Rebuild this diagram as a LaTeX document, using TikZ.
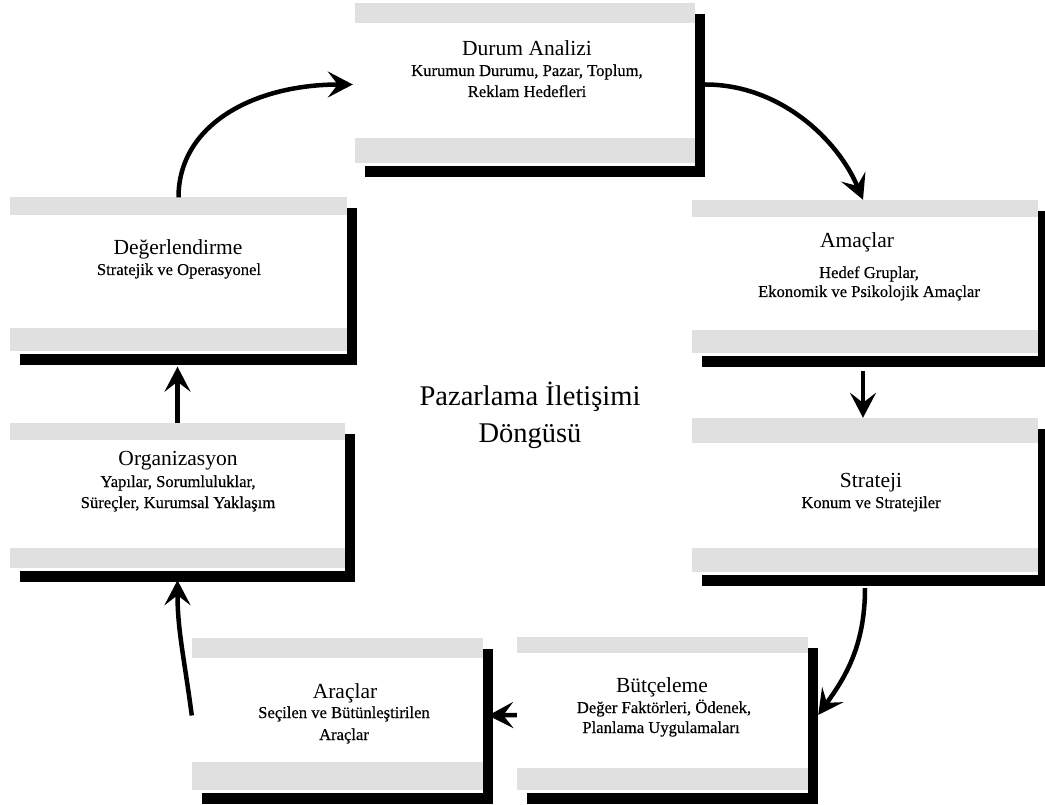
\documentclass[tikz,border=0pt]{standalone}
\usepackage{fontspec}
\setmainfont{Liberation Serif}
\newfontfamily\subserif[FakeBold=0.4]{Liberation Serif}
\usetikzlibrary{arrows.meta,shadows}
\definecolor{barfill}{gray}{0.88}

\begin{document}
\begin{tikzpicture}[x=1pt,y=1pt,
  % white card with grey bands at top and bottom and a solid black drop shadow
  panel/.style 2 args={rectangle, inner sep=0pt, fill=white,
    general shadow={fill=black, shadow xshift=10pt, shadow yshift=-11pt},
    path picture={
      \fill[barfill] (path picture bounding box.north west)
        rectangle ([yshift={-#1}]path picture bounding box.north east);
      \fill[barfill] ([yshift=3]path picture bounding box.south west)
        rectangle ([yshift={#2+3}]path picture bounding box.south east);}},
  ttl/.style={font=\fontsize{21.5}{24}\selectfont, inner sep=0pt, anchor=base},
  sub/.style={font=\subserif\fontsize{16.6}{19}\selectfont, inner sep=0pt, anchor=base},
  ctr/.style={font=\fontsize{28.5}{32}\selectfont, inner sep=0pt, anchor=base},
  arr/.style={line width=4.5pt, -{Stealth[length=25pt, width=26pt, inset=10pt]}}
]
\useasboundingbox (0,0) rectangle (1045,-805);
\fill[white] (0,0) rectangle (1045,-805);

% stages of the cycle
\node[panel={20}{25}, minimum width=340, minimum height=163] (dur)  at (525,-84.5) {};
\node[panel={17}{23}, minimum width=346, minimum height=156] (amac) at (865,-278) {};
\node[panel={25}{24}, minimum width=346, minimum height=157] (str)  at (865,-496.5) {};
\node[panel={16}{22}, minimum width=291, minimum height=156] (but)  at (662.5,-715) {};
\node[panel={20}{28}, minimum width=291, minimum height=155] (ara)  at (337.5,-715.5) {};
\node[panel={17}{20}, minimum width=335, minimum height=148] (org)  at (177.5,-497) {};
\node[panel={18}{22}, minimum width=337, minimum height=156] (deg)  at (178.5,-275.5) {};

% labels
\node[ttl] (dur-t)  at (527,-56) {Durum Analizi};
\node[sub] (dur-s1) at (527,-76) {Kurumun Durumu, Pazar, Toplum,};
\node[sub] (dur-s2) at (527,-97) {Reklam Hedefleri};

\node[ttl] (amac-t)  at (857,-248) {Amaçlar};
\node[sub] (amac-s1) at (869,-278) {Hedef Gruplar,};
\node[sub] (amac-s2) at (869,-297) {Ekonomik ve Psikolojik Amaçlar};

\node[ttl] (str-t)  at (871,-487) {Strateji};
\node[sub] (str-s1) at (871,-508) {Konum ve Stratejiler};

\node[ttl] (but-t)  at (662,-692) {Bütçeleme};
\node[sub] (but-s1) at (664,-713) {Değer Faktörleri, Ödenek,};
\node[sub] (but-s2) at (661,-733) {Planlama Uygulamaları};

\node[ttl] (ara-t)  at (345,-698) {Araçlar};
\node[sub] (ara-s1) at (344,-718) {Seçilen ve Bütünleştirilen};
\node[sub] (ara-s2) at (344,-740) {Araçlar};

\node[ttl] (org-t)  at (178,-465) {Organizasyon};
\node[sub] (org-s1) at (178,-487) {Yapılar, Sorumluluklar,};
\node[sub] (org-s2) at (178,-508) {Süreçler, Kurumsal Yaklaşım};

\node[ttl] (deg-t)  at (178,-255) {Değerlendirme};
\node[sub] (deg-s1) at (179,-275) {Stratejik ve Operasyonel};

\node[ctr] (title1) at (530,-405) {Pazarlama İletişimi};
\node[ctr] (title2) at (530,-442) {Döngüsü};

% flow of the cycle
\draw[arr] (deg.north) .. controls +(0,72) and +(-100,0) .. ([xshift=-2pt]dur.west);
\draw[arr] ([xshift=10pt]dur.east) .. controls +(75,0) and +(-25,60) .. ([xshift=-2pt]amac.north);
\draw[arr] ([xshift=-2pt,yshift=-15pt]amac.south) -- ([xshift=-2pt]str.north);
\draw[arr] ([yshift=-13pt]str.south) .. controls +(0,-60) and +(25,35) .. ([xshift=10pt]but.east);
\draw[arr] (but.west) -- ([xshift=5pt]ara.east);
\draw[arr] (ara.west) .. controls +(-8,60) and +(0,-50) .. ([yshift=-9pt]org.south);
\draw[arr] (org.north) -- ([xshift=-1pt,yshift=-13pt]deg.south);
\end{tikzpicture}
\end{document}
